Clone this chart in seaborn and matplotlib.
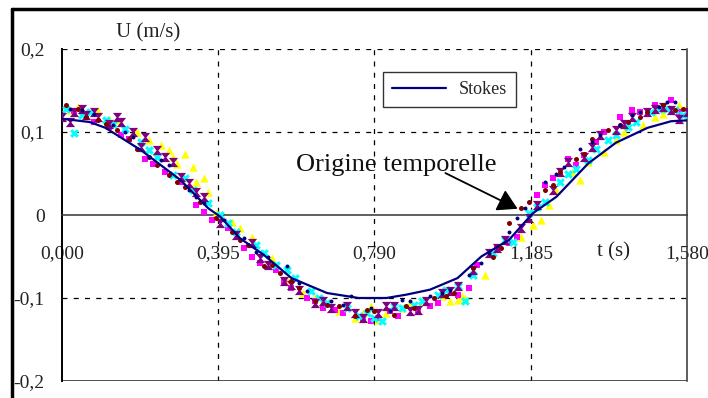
import matplotlib
matplotlib.use("Agg")
import matplotlib.pyplot as plt
import seaborn as sns
from matplotlib.path import Path
from matplotlib.lines import Line2D

# ---------------- data ----------------
stokes_t = [0.00, 0.07, 0.11, 0.20, 0.30, 0.37, 0.40, 0.45, 0.51, 0.58, 0.67, 0.75,
            0.82, 0.87, 0.93, 1.00, 1.06, 1.13, 1.19, 1.25, 1.33, 1.40, 1.48, 1.54, 1.58]
stokes_u = [0.116, 0.112, 0.105, 0.078, 0.042, 0.008, -0.002, -0.028, -0.048, -0.076,
            -0.094, -0.100, -0.100, -0.096, -0.090, -0.076, -0.050, -0.030, 0.002, 0.022,
            0.062, 0.087, 0.105, 0.113, 0.114]

navy_t = [0.02, 0.08, 0.13, 0.18, 0.22, 0.27, 0.32, 0.36, 0.41, 0.46, 0.52, 0.57, 0.62,
          0.68, 0.73, 0.78, 0.83, 0.88, 0.93, 0.98, 1.03, 1.08, 1.13, 1.17, 1.22, 1.27,
          1.31, 1.36, 1.41, 1.46, 1.51, 1.55,
          0.05, 0.16, 0.25, 0.34, 0.49, 0.60, 0.71, 0.86, 0.96, 1.06, 1.15, 1.25, 1.34,
          1.44, 1.53]
navy_u = [0.128, 0.122, 0.108, 0.094, 0.070, 0.060, 0.030, 0.015, -0.006, -0.028, -0.050,
          -0.062, -0.092, -0.104, -0.098, -0.112, -0.116, -0.104, -0.098, -0.090, -0.072,
          -0.046, -0.020, 0.008, 0.040, 0.058, 0.080, 0.096, 0.108, 0.124, 0.130, 0.136,
          0.126, 0.100, 0.066, 0.022, -0.044, -0.082, -0.108, -0.102, -0.094, -0.058,
          -0.004, 0.050, 0.088, 0.120, 0.136]

maroon_t = [0.01, 0.06, 0.11, 0.14, 0.19, 0.24, 0.27, 0.31, 0.35, 0.39, 0.43, 0.47, 0.51,
            0.55, 0.60, 0.64, 0.70, 0.74, 0.79, 0.84, 0.89, 0.94, 0.99, 1.04, 1.09, 1.13,
            1.18, 1.22, 1.26, 1.30, 1.34, 1.38, 1.43, 1.48, 1.52, 1.57,
            0.04, 0.09, 0.17, 0.22, 0.29, 0.45, 0.53, 0.58, 0.67, 0.77, 0.87, 0.97, 1.11,
            1.16, 1.24, 1.32, 1.41, 1.46, 1.55]
maroon_u = [0.132, 0.118, 0.110, 0.102, 0.080, 0.060, 0.048, 0.034, 0.016, -0.004, -0.020,
            -0.036, -0.062, -0.070, -0.088, -0.104, -0.110, -0.122, -0.116, -0.120, -0.112,
            -0.100, -0.094, -0.064, -0.050, -0.010, 0.016, 0.030, 0.052, 0.068, 0.092,
            0.102, 0.112, 0.124, 0.132, 0.128,
            0.128, 0.114, 0.092, 0.070, 0.040, -0.030, -0.060, -0.080, -0.108, -0.114,
            -0.110, -0.098, -0.040, 0.008, 0.036, 0.074, 0.108, 0.118, 0.126]

magenta_t = [0.03, 0.08, 0.12, 0.17, 0.21, 0.26, 0.30, 0.34, 0.38, 0.42, 0.46, 0.50, 0.54,
             0.58, 0.62, 0.66, 0.71, 0.76, 0.80, 0.85, 0.90, 0.95, 1.00, 1.05, 1.10, 1.15,
             1.20, 1.24, 1.28, 1.32, 1.37, 1.41, 1.46, 1.50, 1.54,
             0.06, 0.15, 0.23, 0.36, 0.48, 0.56, 0.64, 0.69, 0.78, 0.83, 0.93, 1.03, 1.13,
             1.22, 1.30, 1.35, 1.44, 1.52, 1.56]
magenta_u = [0.125, 0.112, 0.106, 0.092, 0.068, 0.052, 0.040, 0.012, -0.006, -0.016, -0.040,
             -0.058, -0.066, -0.088, -0.100, -0.112, -0.118, -0.126, -0.124, -0.122, -0.114,
             -0.106, -0.096, -0.060, -0.040, -0.026, 0.024, 0.044, 0.068, 0.072, 0.100,
             0.118, 0.124, 0.132, 0.138,
             0.120, 0.096, 0.062, 0.004, -0.050, -0.080, -0.104, -0.114, -0.128, -0.116,
             -0.110, -0.088, -0.034, 0.036, 0.060, 0.088, 0.126, 0.128, 0.124]

yellow_t = [0.04, 0.09, 0.14, 0.19, 0.25, 0.27, 0.29, 0.31, 0.34, 0.37, 0.39, 0.43, 0.48,
            0.53, 0.57, 0.61, 0.66, 0.70, 0.74, 0.78, 0.82, 0.86, 0.91, 0.96, 1.00, 1.01,
            1.07, 1.16, 1.19, 1.21, 1.25, 1.29, 1.33, 1.37, 1.42, 1.47, 1.52, 1.56,
            0.02, 0.12, 0.22, 0.28, 0.33, 0.36, 0.45, 0.64, 0.76, 0.80, 0.88, 0.98, 1.02,
            1.23, 1.31, 1.40, 1.50]
yellow_u = [0.130, 0.125, 0.114, 0.100, 0.084, 0.078, 0.062, 0.074, 0.040, 0.028, 0.002,
            -0.008, -0.026, -0.052, -0.078, -0.094, -0.104, -0.116, -0.124, -0.110, -0.118,
            -0.112, -0.104, -0.098, -0.102, -0.098, -0.072, -0.026, -0.012, -0.006, 0.030,
            0.052, 0.064, 0.076, 0.100, 0.108, 0.122, 0.132,
            0.126, 0.116, 0.090, 0.070, 0.058, 0.044, -0.016, -0.100, -0.118, -0.126,
            -0.106, -0.104, -0.100, 0.012, 0.042, 0.090, 0.118]

cyan_t = [0.01, 0.03, 0.05, 0.11, 0.16, 0.20, 0.24, 0.28, 0.33, 0.37, 0.40, 0.44, 0.49,
          0.54, 0.59, 0.63, 0.67, 0.72, 0.77, 0.81, 0.86, 0.91, 0.95, 1.00, 1.04, 1.09,
          1.14, 1.18, 1.22, 1.26, 1.30, 1.35, 1.40, 1.45, 1.49, 1.53, 1.57,
          0.07, 0.13, 0.22, 0.31, 0.42, 0.51, 0.57, 0.65, 0.75, 0.79, 0.84, 0.89, 0.97,
          1.02, 1.12, 1.20, 1.28, 1.33, 1.38, 1.43, 1.51, 1.55]
cyan_u = [0.128, 0.099, 0.120, 0.114, 0.104, 0.088, 0.070, 0.048, 0.030, 0.014, 0.000,
          -0.020, -0.036, -0.060, -0.076, -0.092, -0.106, -0.112, -0.118, -0.128, -0.112,
          -0.104, -0.096, -0.086, -0.072, -0.046, -0.032, 0.002, 0.016, 0.040, 0.056,
          0.080, 0.096, 0.112, 0.124, 0.128, 0.120,
          0.124, 0.110, 0.078, 0.044, -0.010, -0.046, -0.066, -0.100, -0.122, -0.124,
          -0.110, -0.108, -0.090, -0.104, -0.030, 0.010, 0.050, 0.066, 0.090, 0.106,
          0.128, 0.126]

purple_t = [0.00, 0.03, 0.06, 0.09, 0.12, 0.15, 0.18, 0.21, 0.24, 0.28, 0.32, 0.36, 0.40,
            0.44, 0.48, 0.52, 0.56, 0.60, 0.64, 0.68, 0.72, 0.76, 0.80, 0.84, 0.88, 0.92,
            0.96, 1.00, 1.04, 1.08, 1.12, 1.16, 1.20, 1.24, 1.28, 1.32, 1.36, 1.40, 1.44,
            1.48, 1.52, 1.56, 1.58,
            0.02, 0.05, 0.08, 0.14, 0.20, 0.26, 0.30, 0.34, 0.50, 0.58, 0.66, 0.74, 0.82,
            0.90, 0.98, 1.10, 1.18, 1.26, 1.34, 1.42, 1.50, 1.54]
purple_u = [0.118, 0.124, 0.120, 0.118, 0.110, 0.112, 0.100, 0.094, 0.078, 0.064, 0.038,
            0.022, -0.010, -0.024, -0.034, -0.060, -0.080, -0.090, -0.106, -0.112, -0.110,
            -0.124, -0.118, -0.110, -0.116, -0.104, -0.094, -0.086, -0.066, -0.046, -0.030,
            -0.016, 0.012, 0.030, 0.064, 0.070, 0.096, 0.102, 0.118, 0.124, 0.130, 0.116,
            0.124,
            0.112, 0.128, 0.124, 0.118, 0.082, 0.070, 0.046, 0.028, -0.052, -0.084,
            -0.104, -0.118, -0.110, -0.114, -0.092, -0.040, -0.004, 0.052, 0.082, 0.110,
            0.128, 0.126]

x_ticks = [0.0, 0.1975, 0.395, 0.5925, 0.79, 0.9875, 1.185, 1.3825, 1.58]
x_tick_labels = ["0,000", "", "0,395", "", "0,790", "", "1,185", "", "1,580"]
y_ticks = [-0.2, -0.15, -0.1, -0.05, 0.0, 0.05, 0.1, 0.15, 0.2]
y_tick_labels = ["-0,2", "", "-0,1", "", "0", "", "0,1", "", "0,2"]
x_grid = [0.395, 0.79, 1.185]
y_grid = [-0.1, 0.1, 0.2]

# ---------------- style ----------------
sns.set_style("white")
plt.rcParams["font.family"] = ["Liberation Serif", "DejaVu Serif"]

fig = plt.figure(figsize=(7.08, 3.98), dpi=100)
ax = fig.add_axes([62 / 708, 17 / 398, 625 / 708, 332 / 398])

hourglass = Path([(-1, 1), (1, 1), (0.2, 0), (1, -1), (-1, -1), (-0.2, 0), (-1, 1)],
                 [Path.MOVETO, Path.LINETO, Path.LINETO, Path.LINETO, Path.LINETO,
                  Path.LINETO, Path.CLOSEPOLY])

# grid
for g in x_grid:
    ax.axvline(g, color="black", lw=0.9, ls=(0, (4, 5)), zorder=1)
for g in y_grid:
    ax.axhline(g, color="black", lw=0.9, ls=(0, (4, 5)), zorder=1)
ax.axhline(-0.2, color="#333333", lw=1.2, zorder=1)

# scatter series
sns.scatterplot(x=yellow_t, y=yellow_u, ax=ax, marker="^", color="#FFFF00", s=36,
                linewidth=0, zorder=3)
sns.scatterplot(x=magenta_t, y=magenta_u, ax=ax, marker="s", color="#FF00FF", s=18,
                linewidth=0, zorder=3)
sns.scatterplot(x=cyan_t, y=cyan_u, ax=ax, marker="X", color="#00FFFF", s=40,
                linewidth=0, zorder=3)
sns.scatterplot(x=purple_t, y=purple_u, ax=ax, marker=hourglass, color="#800080", s=44,
                linewidth=0, zorder=3)
sns.scatterplot(x=maroon_t, y=maroon_u, ax=ax, marker="o", color="#800000", s=13,
                linewidth=0, zorder=3)
sns.scatterplot(x=navy_t, y=navy_u, ax=ax, marker="o", color="#000080", s=8,
                linewidth=0, zorder=3)

# Stokes line
sns.lineplot(x=stokes_t, y=stokes_u, ax=ax, color="#000080", lw=1.6, sort=False,
             estimator=None, label="Stokes", zorder=4)

ax.set_xlim(0, 1.58)
ax.set_ylim(-0.2, 0.2)

# axes / spines
ax.spines["top"].set_visible(False)
ax.spines["left"].set_position(("data", 0))
ax.spines["left"].set_color("black")
ax.spines["left"].set_linewidth(1.4)
ax.spines["bottom"].set_position(("data", 0))
ax.spines["bottom"].set_color("#333333")
ax.spines["bottom"].set_linewidth(1.1)
ax.spines["right"].set_color("#333333")
ax.spines["right"].set_linewidth(1.1)

ax.set_xticks(x_ticks)
ax.set_xticklabels(x_tick_labels)
ax.set_yticks(y_ticks)
ax.set_yticklabels(y_tick_labels)
ax.tick_params(axis="x", direction="inout", length=8, width=1, color="#333333",
               pad=18, labelsize=14, labelcolor="#222222")
ax.tick_params(axis="y", direction="inout", length=9, width=1, color="black",
               pad=8, labelsize=14, labelcolor="#222222")
ax.set_xlabel("")
ax.set_ylabel("")

ax.text(0.217, 0.219, "U (m/s)", ha="center", va="center", fontsize=15,
        color="#222222", clip_on=False)
ax.text(1.395, -0.045, "t (s)", ha="center", va="center", fontsize=15, color="#222222")

ax.text(0.845, 0.053, "Origine temporelle", ha="center", va="baseline", fontsize=19,
        color="#111111", zorder=5)
ax.annotate("", xy=(1.158, 0.006), xytext=(0.963, 0.052),
            arrowprops=dict(arrowstyle="-|>,head_length=0.6,head_width=0.35",
                            color="black", lw=1.3, mutation_scale=20), zorder=5)

leg = ax.legend(loc="upper left", bbox_to_anchor=(0.5136, 0.9307), fontsize=13,
                frameon=True, fancybox=False, handlelength=3.0, borderpad=0.5,
                handletextpad=0.7, borderaxespad=0)
leg.get_frame().set_edgecolor("black")
leg.get_frame().set_linewidth(1.0)

# outer chart frame (top and left visible)
fig.add_artist(Line2D([11.5 / 708, 1.0], [1 - 8.5 / 398, 1 - 8.5 / 398],
                      transform=fig.transFigure, color="black", lw=2.5))
fig.add_artist(Line2D([11.5 / 708, 11.5 / 708], [0, 1 - 8.5 / 398],
                      transform=fig.transFigure, color="black", lw=2.5))

fig.savefig("out.png", dpi=100, facecolor="white")
